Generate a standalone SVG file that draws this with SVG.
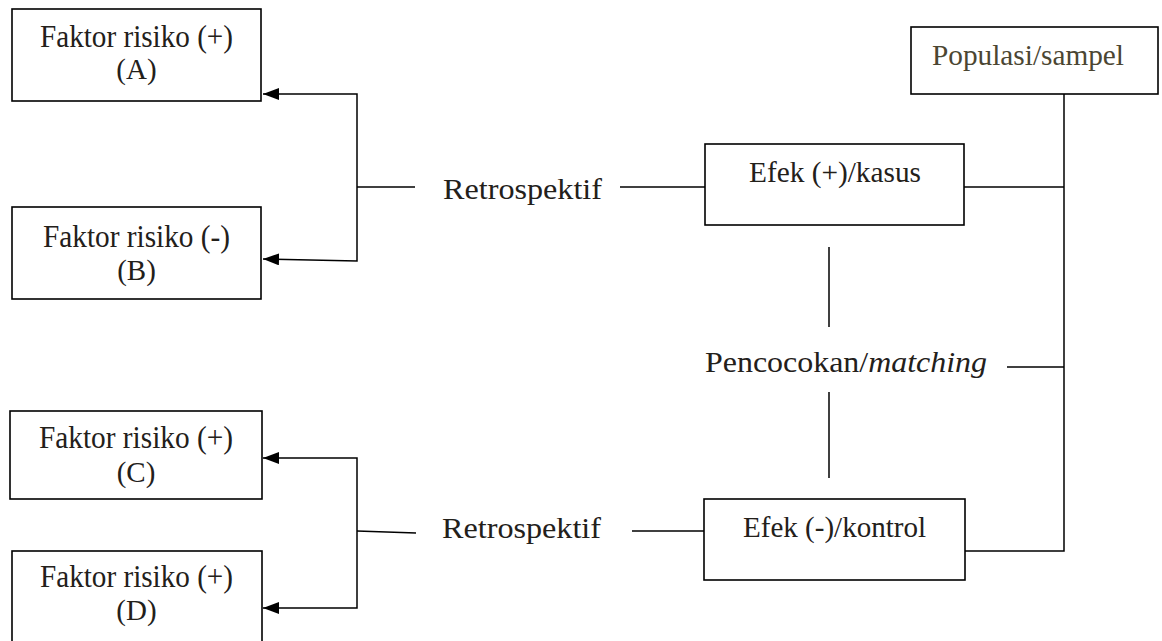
<svg xmlns="http://www.w3.org/2000/svg" width="1162" height="641" viewBox="0 0 1162 641">
<style>
.box{fill:#fff;stroke:#000;stroke-width:1.6}
.t{font-size:30px;fill:#23201a}
.f{font-size:32px}
.l{font-size:29px}
.ln{fill:none;stroke:#000;stroke-width:1.5}
</style>
<defs>
<marker id="ah" viewBox="0 0 16 12" refX="16" refY="6" markerWidth="16" markerHeight="12" markerUnits="userSpaceOnUse" orient="auto">
<path d="M0,0 L16,6 L0,12 Z" fill="#000"/>
</marker>
</defs>
<rect width="1162" height="641" fill="#fff"/>
<g id="connectors">
<path class="ln" d="M357,187 L357,94 L263,94" marker-end="url(#ah)"/>
<path class="ln" d="M357,187 L357,261 L263,259" marker-end="url(#ah)"/>
<path class="ln" d="M357,187 L415,187"/>
<path class="ln" d="M620,187 L705,187"/>
<path class="ln" d="M964,187 L1064,187"/>
<path class="ln" d="M1064,94 L1064,551 L965,551"/>
<path class="ln" d="M1007,367 L1064,367"/>
<path class="ln" d="M829,247 L829,327"/>
<path class="ln" d="M829,392 L829,478"/>
<path class="ln" d="M357,531 L357,458 L263,458" marker-end="url(#ah)"/>
<path class="ln" d="M357,531 L357,608 L263,608" marker-end="url(#ah)"/>
<path class="ln" d="M357,531 L416,533"/>
<path class="ln" d="M632,531 L704,531"/>
</g>
<g font-family="'Liberation Serif', 'DejaVu Serif', serif">
<g id="nodeA">
<rect class="box" x="12" y="9" width="249" height="92"/>
<text class="t f" x="136.5" y="47" text-anchor="middle" textLength="193" lengthAdjust="spacingAndGlyphs">Faktor risiko (+)</text>
<text class="t l" x="136.5" y="79" text-anchor="middle">(A)</text>
</g>
<g id="nodeB">
<rect class="box" x="12" y="207" width="249" height="92"/>
<text class="t f" x="136.5" y="247" text-anchor="middle" textLength="187" lengthAdjust="spacingAndGlyphs">Faktor risiko (-)</text>
<text class="t l" x="136.5" y="280" text-anchor="middle">(B)</text>
</g>
<g id="nodeC">
<rect class="box" x="10" y="411" width="252" height="88"/>
<text class="t f" x="136" y="448" text-anchor="middle" textLength="194" lengthAdjust="spacingAndGlyphs">Faktor risiko (+)</text>
<text class="t l" x="136" y="482" text-anchor="middle">(C)</text>
</g>
<g id="nodeD">
<rect class="box" x="12" y="551" width="250" height="100"/>
<text class="t f" x="136.5" y="587" text-anchor="middle" textLength="193" lengthAdjust="spacingAndGlyphs">Faktor risiko (+)</text>
<text class="t l" x="136.5" y="620" text-anchor="middle">(D)</text>
</g>
<g id="retro1">
<text class="t l" x="443" y="199" textLength="159" lengthAdjust="spacingAndGlyphs">Retrospektif</text>
</g>
<g id="retro2">
<text class="t l" x="442" y="538" textLength="159" lengthAdjust="spacingAndGlyphs">Retrospektif</text>
</g>
<g id="efekPlus">
<rect class="box" x="705" y="144" width="259" height="81"/>
<text class="t" x="749" y="182" textLength="172" lengthAdjust="spacingAndGlyphs">Efek (+)/kasus</text>
</g>
<g id="efekMinus">
<rect class="box" x="704" y="499" width="261" height="81"/>
<text class="t" x="743" y="537" textLength="183" lengthAdjust="spacingAndGlyphs">Efek (-)/kontrol</text>
</g>
<g id="populasi">
<rect class="box" x="911" y="27" width="247" height="67"/>
<text class="t" x="932" y="65" textLength="192" lengthAdjust="spacingAndGlyphs" style="fill:#4b4632">Populasi/sampel</text>
</g>
<g id="matching">
<text class="t" x="705" y="372" textLength="282" lengthAdjust="spacingAndGlyphs">Pencocokan/<tspan font-style="italic">matching</tspan></text>
</g>
</g>
</svg>
